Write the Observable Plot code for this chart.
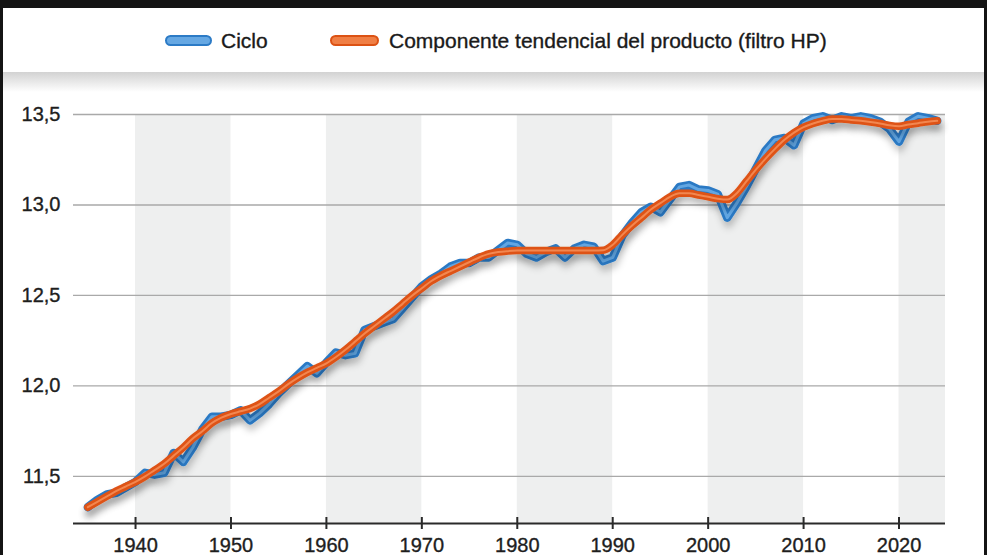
<!DOCTYPE html>
<html>
<head>
<meta charset="utf-8">
<script src="https://cdn.jsdelivr.net/npm/d3@7"></script>
<script src="https://cdn.jsdelivr.net/npm/@observablehq/plot@0.6"></script>
<style>
  body { margin: 0; background: #fff; }
  #frame { position: relative; width: 987px; height: 555px; overflow: hidden; background: #fff; font-family: "Liberation Sans", Arial, sans-serif; color: #222; }
  .abs { position: absolute; }
  .pill { position: absolute; height: 7px; width: 43px; border-radius: 6px; }
  .leg { position: absolute; font-size: 21px; line-height: 21px; color: #1a1a1a; white-space: nowrap; -webkit-text-stroke: 0.35px #1a1a1a; }
  #chart svg text { stroke: #1e1e1e; stroke-width: 0.35px; }
</style>
</head>
<body>
<div id="frame">
  <div id="chart" class="abs" style="left:0; top:90px;"></div>
  <div class="abs" style="left:0; top:72px; width:987px; height:20px; background:linear-gradient(#d2d2d2, rgba(255,255,255,0));"></div>
  <div class="abs" style="left:0; top:0; width:987px; height:8px; background:#141414;"></div>
  <div class="abs" style="left:0; top:0; width:3px; height:555px; background:#141414;"></div>
  <div class="abs" style="left:984px; top:0; width:3px; height:555px; background:#141414;"></div>
  <div class="pill" style="left:165px; top:35px; background:#66a8e3; border:2px solid #2c7bc6;"></div>
  <div class="leg" style="left:221px; top:30px;">Ciclo</div>
  <div class="pill" style="left:330px; top:35px; width:45px; background:#f07f45; border:2px solid #dc5214;"></div>
  <div class="leg" style="left:389px; top:30px;">Componente tendencial del producto (filtro HP)</div>
</div>
<script>
const years = d3.range(1935, 2025);
const cycle = [
  11.33, 11.37, 11.40, 11.41, 11.44,
  11.47, 11.52, 11.51, 11.52, 11.63,
  11.58, 11.66, 11.76, 11.83, 11.83,
  11.84, 11.865, 11.81, 11.85, 11.90,
  11.96, 12.01, 12.06, 12.11, 12.07,
  12.13, 12.185, 12.17, 12.18, 12.31,
  12.33, 12.35, 12.37, 12.43, 12.49,
  12.55, 12.59, 12.62, 12.66, 12.68,
  12.68, 12.71, 12.71, 12.75, 12.79,
  12.78, 12.73, 12.71, 12.74, 12.76,
  12.71, 12.76, 12.78, 12.77, 12.69,
  12.71, 12.83, 12.90, 12.96, 12.99,
  12.96, 13.03, 13.10, 13.11, 13.085,
  13.08, 13.06, 12.93, 13.01, 13.10,
  13.20, 13.30, 13.36, 13.37, 13.33,
  13.45, 13.48, 13.49, 13.47, 13.49,
  13.48, 13.49, 13.48, 13.46, 13.42,
  13.35, 13.46, 13.49, 13.48, 13.465
];
const trend = [
  11.33, 11.36, 11.39, 11.42, 11.445,
  11.47, 11.50, 11.535, 11.57, 11.615,
  11.66, 11.71, 11.75, 11.795, 11.825,
  11.845, 11.86, 11.875, 11.90, 11.935,
  11.97, 12.01, 12.045, 12.075, 12.10,
  12.125, 12.16, 12.20, 12.245, 12.29,
  12.33, 12.37, 12.41, 12.455, 12.50,
  12.54, 12.58, 12.61, 12.635, 12.66,
  12.685, 12.71, 12.73, 12.74, 12.745,
  12.748, 12.749, 12.749, 12.749, 12.749,
  12.749, 12.749, 12.749, 12.749, 12.75,
  12.78, 12.835, 12.885, 12.93, 12.975,
  13.01, 13.045, 13.065, 13.065, 13.055,
  13.045, 13.035, 13.03, 13.065, 13.13,
  13.195, 13.255, 13.31, 13.36, 13.40,
  13.43, 13.45, 13.465, 13.475, 13.475,
  13.47, 13.465, 13.458, 13.45, 13.44,
  13.435, 13.445, 13.452, 13.46, 13.465
];
const yTicks = [11.5, 12.0, 12.5, 13.0, 13.5];
const xTicks = [1940, 1950, 1960, 1970, 1980, 1990, 2000, 2010, 2020];
const bandStarts = [1940, 1960, 1980, 2000, 2020];

const xDomain = [1933.5, 2024.87];
const yDomain = [11.24, 13.5];
const rows = years.map((y, i) => ({year: y, cycle: cycle[i], trend: trend[i]}));
const bands = bandStarts.map(s => ({x1: s, x2: Math.min(s + 10, xDomain[1])}));
const fmt = d => d.toFixed(1).replace(".", ",");

const plot = Plot.plot({
  width: 987,
  height: 465,
  marginTop: 24,
  marginBottom: 32,
  marginLeft: 73,
  marginRight: 42,
  style: {fontFamily: "'Liberation Sans', Arial, sans-serif", fontSize: "20px", color: "#222", background: "transparent", overflow: "visible"},
  x: {domain: xDomain},
  y: {domain: yDomain},
  marks: [
    Plot.rectX(bands, {x1: "x1", x2: "x2", y1: yDomain[0], y2: yDomain[1], fill: "#eeefef"}),
    Plot.ruleY(yTicks, {stroke: "#a9a9a9", strokeWidth: 1.3}),
    Plot.ruleY([yDomain[0]], {stroke: "#2a2a2a", strokeWidth: 2}),
    Plot.ruleX(xTicks, {y1: yDomain[0], y2: yDomain[0], insetTop: -6, insetBottom: -6, stroke: "#2a2a2a", strokeWidth: 2}),
    Plot.axisY({ticks: yTicks, tickFormat: fmt, tickSize: 0, tickPadding: 13, label: null, fill: "#1e1e1e"}),
    Plot.axisX({ticks: xTicks, tickFormat: d => String(d), tickSize: 0, tickPadding: 14, label: null, fill: "#1e1e1e"}),
    Plot.line(rows, {x: "year", y: "cycle", stroke: "#2a79c4", strokeWidth: 8.5, strokeLinejoin: "round", strokeLinecap: "round"}),
    Plot.line(rows, {x: "year", y: "cycle", stroke: "#62a6e2", strokeWidth: 3, strokeLinejoin: "round", strokeLinecap: "round"}),
    Plot.line(rows, {x: "year", y: "trend", curve: "monotone-x", stroke: "#de5316", strokeWidth: 7.5, strokeLinejoin: "round", strokeLinecap: "round"}),
    Plot.line(rows, {x: "year", y: "trend", curve: "monotone-x", stroke: "#f28750", strokeWidth: 2, strokeLinejoin: "round", strokeLinecap: "round"})
  ]
});

// drop shadow under lines
const ns = "http://www.w3.org/2000/svg";
const defs = document.createElementNS(ns, "defs");
defs.innerHTML = '<filter id="sh" x="-5%" y="-20%" width="110%" height="150%"><feDropShadow dx="1" dy="6" stdDeviation="3.5" flood-color="#000" flood-opacity="0.22"/></filter>';
plot.insertBefore(defs, plot.firstChild);
const lineGroups = plot.querySelectorAll('g[aria-label="line"]');
if (lineGroups[0]) lineGroups[0].setAttribute("filter", "url(#sh)");
if (lineGroups[2]) lineGroups[2].setAttribute("filter", "url(#sh)");

document.getElementById("chart").appendChild(plot);
</script>
</body>
</html>
